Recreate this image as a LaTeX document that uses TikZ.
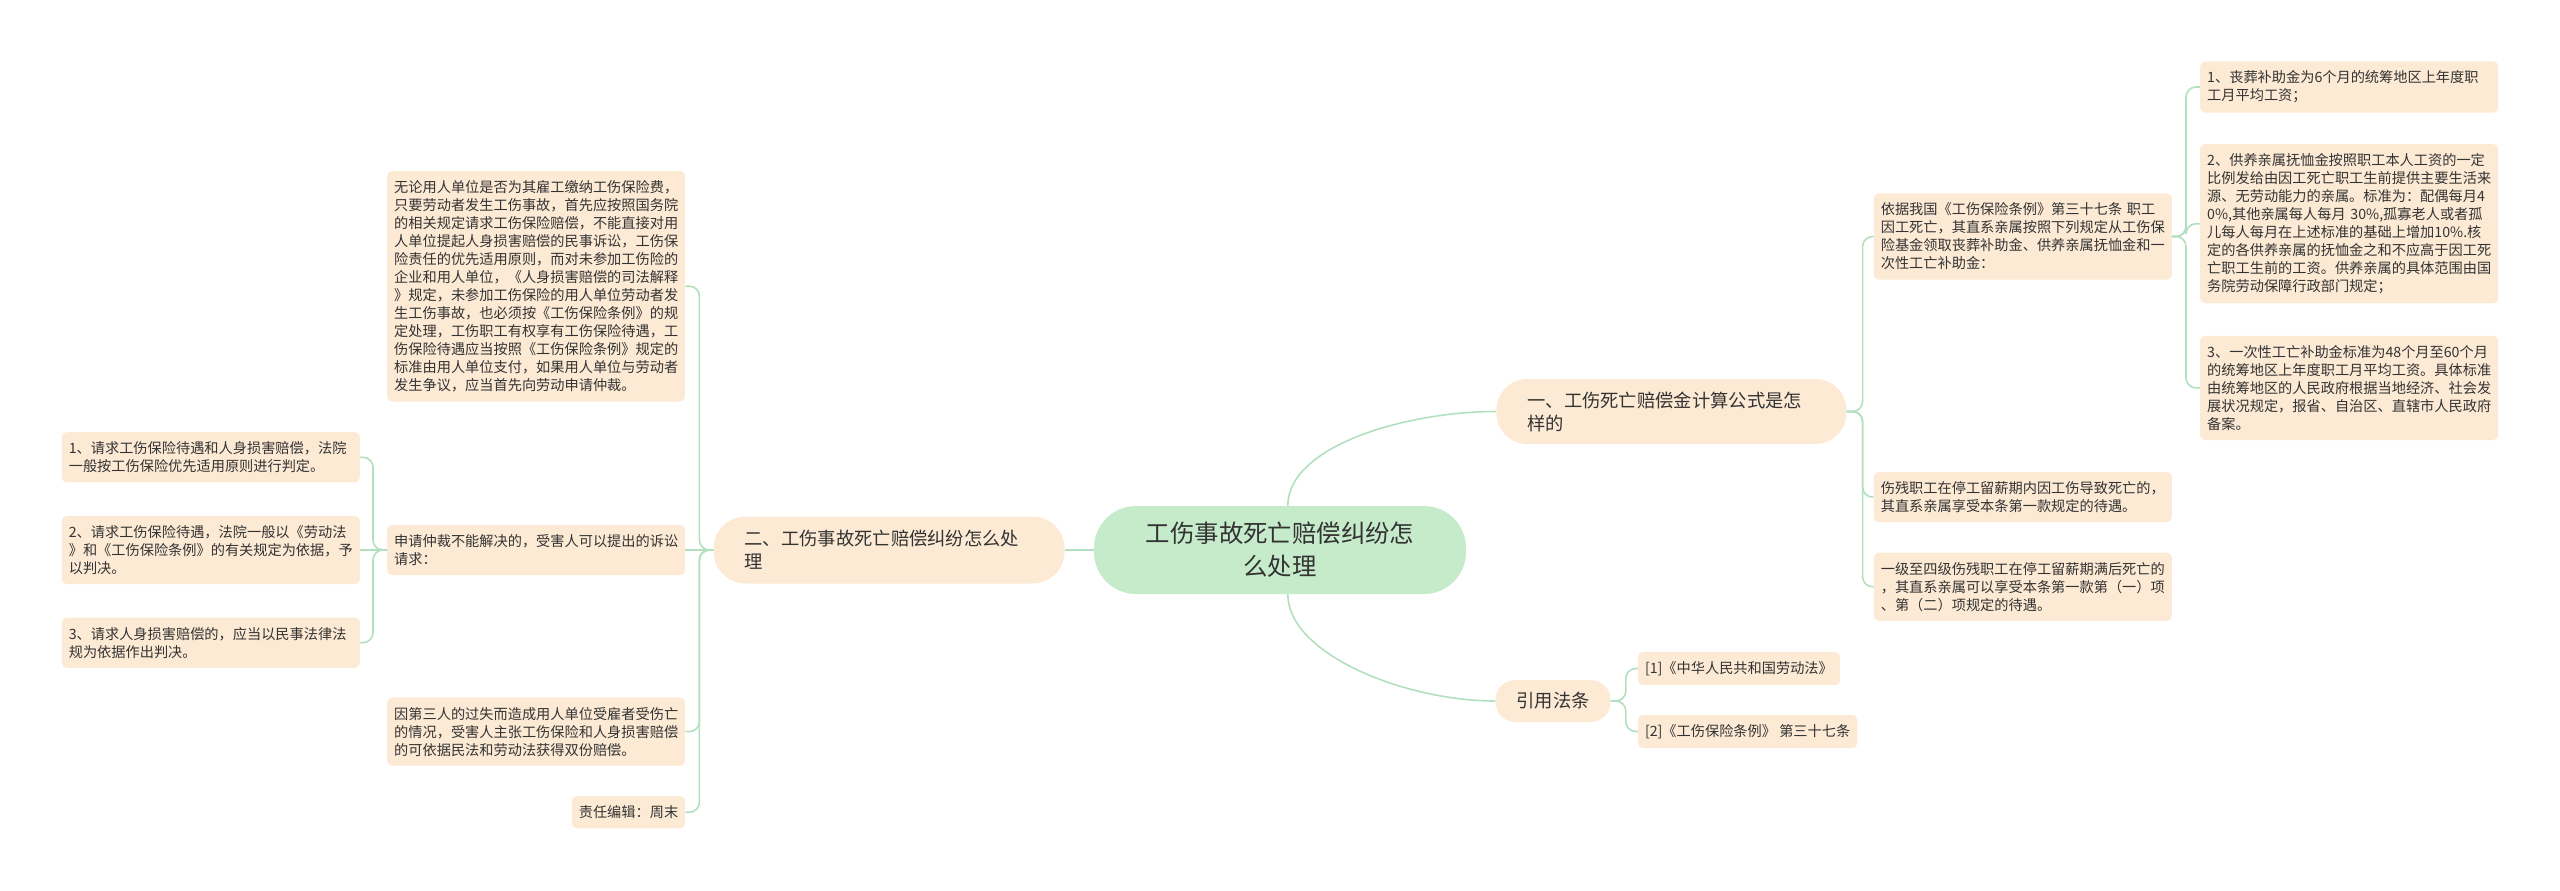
\documentclass[tikz,border=0pt]{standalone}
\usepackage{fontspec}
\setmainfont{Noto Sans CJK SC}
\usepackage{xcolor}
\usetikzlibrary{positioning}
\definecolor{mapgreen}{HTML}{C6EBCB}
\definecolor{mappeach}{HTML}{FDEAD5}
\definecolor{mapline}{HTML}{B2E0BF}
\definecolor{maptext}{HTML}{333333}

\begin{document}
\begin{tikzpicture}[
    x=1pt, y=-1pt,
    rootbox/.style={rectangle, rounded corners=42pt, fill=mapgreen, minimum width=372pt, minimum height=88pt, align=center, font=\fontsize{24.4}{33}\selectfont, text=maptext, inner sep=0pt},
    branch/.style={rectangle, fill=mappeach, align=left, font=\fontsize{18.3}{23}\selectfont, text=maptext, inner xsep=31pt, inner ysep=0pt},
    leafbase/.style={rectangle, rounded corners=5pt, fill=mappeach, align=left, font=\fontsize{14.2}{18}\selectfont, text=maptext, inner xsep=7pt, inner ysep=9.5pt},
    leaf/.style={leafbase, text width=284pt},
    link/.style={draw=mapline, line width=1.6pt, rounded corners=10pt}
]
    \useasboundingbox (0,0) rectangle (2560,891);

    % Centre and main branches
    \node (root) [rootbox] at (1280,550) {工伤事故死亡赔偿纠纷怎\\么处理};
    \node (b1) [branch, text width=288pt, minimum height=65pt, rounded corners=31pt, right=30pt of root, yshift=138.5pt] {一、工伤死亡赔偿金计算公式是怎\\样的};
    \node (b2) [branch, inner xsep=21pt, minimum height=42pt, rounded corners=20pt, right=29pt of root, yshift=-151pt] {引用法条};
    \node (bl) [branch, text width=289pt, minimum height=67pt, rounded corners=32pt, left=29pt of root] {二、工伤事故死亡赔偿纠纷怎么处\\理};

    % Right: formula branch
    \node (d1) [leaf, right=27pt of b1, yshift=175pt] {依据我国《工伤保险条例》第三十七条 职工\\因工死亡，其直系亲属按照下列规定从工伤保\\险基金领取丧葬补助金、供养亲属抚恤金和一\\次性工亡补助金：};
    \node (d2) [leaf, below=192pt of d1] {伤残职工在停工留薪期内因工伤导致死亡的，\\其直系亲属享受本条第一款规定的待遇。};
    \node (d3) [leaf, below=30pt of d2] {一级至四级伤残职工在停工留薪期满后死亡的\\，其直系亲属可以享受本条第一款第（一）项\\、第（二）项规定的待遇。};

    \node (e1) [leaf, right=28pt of d1, yshift=149.5pt] {1、丧葬补助金为6个月的统筹地区上年度职\\工月平均工资；};
    \node (e2) [leaf, below=31pt of e1] {2、供养亲属抚恤金按照职工本人工资的一定\\比例发给由因工死亡职工生前提供主要生活来\\源、无劳动能力的亲属。标准为：配偶每月4\\0\%,其他亲属每人每月 30\%,孤寡老人或者孤\\儿每人每月在上述标准的基础上增加10\%.核\\定的各供养亲属的抚恤金之和不应高于因工死\\亡职工生前的工资。供养亲属的具体范围由国\\务院劳动保障行政部门规定；};
    \node (e3) [leaf, below=32pt of e2] {3、一次性工亡补助金标准为48个月至60个月\\的统筹地区上年度职工月平均工资。具体标准\\由统筹地区的人民政府根据当地经济、社会发\\展状况规定，报省、自治区、直辖市人民政府\\备案。};

    % Right: cited laws
    \node (c1) [leafbase, right=27pt of b2, yshift=32.5pt] {[1]《中华人民共和国劳动法》};
    \node (c2) [leafbase, right=27pt of b2, yshift=-30.5pt] {[2]《工伤保险条例》 第三十七条};

    % Left: handling branch
    \node (f2) [leaf, left=28pt of bl] {申请仲裁不能解决的，受害人可以提出的诉讼\\请求：};
    \node (f1) [leaf, above=123pt of f2] {无论用人单位是否为其雇工缴纳工伤保险费，\\只要劳动者发生工伤事故，首先应按照国务院\\的相关规定请求工伤保险赔偿，不能直接对用\\人单位提起人身损害赔偿的民事诉讼，工伤保\\险责任的优先适用原则，而对未参加工伤险的\\企业和用人单位，《人身损害赔偿的司法解释\\》规定，未参加工伤保险的用人单位劳动者发\\生工伤事故，也必须按《工伤保险条例》的规\\定处理，工伤职工有权享有工伤保险待遇，工\\伤保险待遇应当按照《工伤保险条例》规定的\\标准由用人单位支付，如果用人单位与劳动者\\发生争议，应当首先向劳动申请仲裁。};
    \node (f3) [leaf, below=122pt of f2] {因第三人的过失而造成用人单位受雇者受伤亡\\的情况，受害人主张工伤保险和人身损害赔偿\\的可依据民法和劳动法获得双份赔偿。};
    \node (f4) [leafbase, below=30pt of f3.south east, anchor=north east] {责任编辑：周末};

    \node (g2) [leaf, left=27pt of f2] {2、请求工伤保险待遇，法院一般以《劳动法\\》和《工伤保险条例》的有关规定为依据，予\\以判决。};
    \node (g1) [leaf, above=33pt of g2] {1、请求工伤保险待遇和人身损害赔偿，法院\\一般按工伤保险优先适用原则进行判定。};
    \node (g3) [leaf, below=33pt of g2] {3、请求人身损害赔偿的，应当以民事法律法\\规为依据作出判决。};

    % Links
    \draw [link] (root.80) .. controls +(0,-60) and +(-90,0) .. (b1.west);
    \draw [link] (root.-80) .. controls +(0,60) and +(-90,0) .. (b2.west);
    \draw [link] (root) -- (bl);

    \draw [link] (b1.east) -- ++(16,0) |- (d1.west);
    \draw [link] (b1.east) -- ++(16,0) |- (d2.west);
    \draw [link] (b1.east) -- ++(16,0) |- (d3.west);
    \draw [link] (d1.east) -- ++(14,0) |- (e1.west);
    \draw [link] (d1.east) -- ++(14,0) |- (e2.west);
    \draw [link] (d1.east) -- ++(14,0) |- (e3.west);
    \draw [link] (b2.east) -- ++(15,0) |- (c1.west);
    \draw [link] (b2.east) -- ++(15,0) |- (c2.west);

    \draw [link] (bl.west) -- ++(-14,0) |- (f1.east);
    \draw [link] (bl.west) -- (f2.east);
    \draw [link] (bl.west) -- ++(-14,0) |- (f3.east);
    \draw [link] (bl.west) -- ++(-14,0) |- (f4.east);
    \draw [link] (f2.west) -- ++(-14,0) |- (g1.east);
    \draw [link] (f2.west) -- (g2.east);
    \draw [link] (f2.west) -- ++(-14,0) |- (g3.east);
\end{tikzpicture}
\end{document}
